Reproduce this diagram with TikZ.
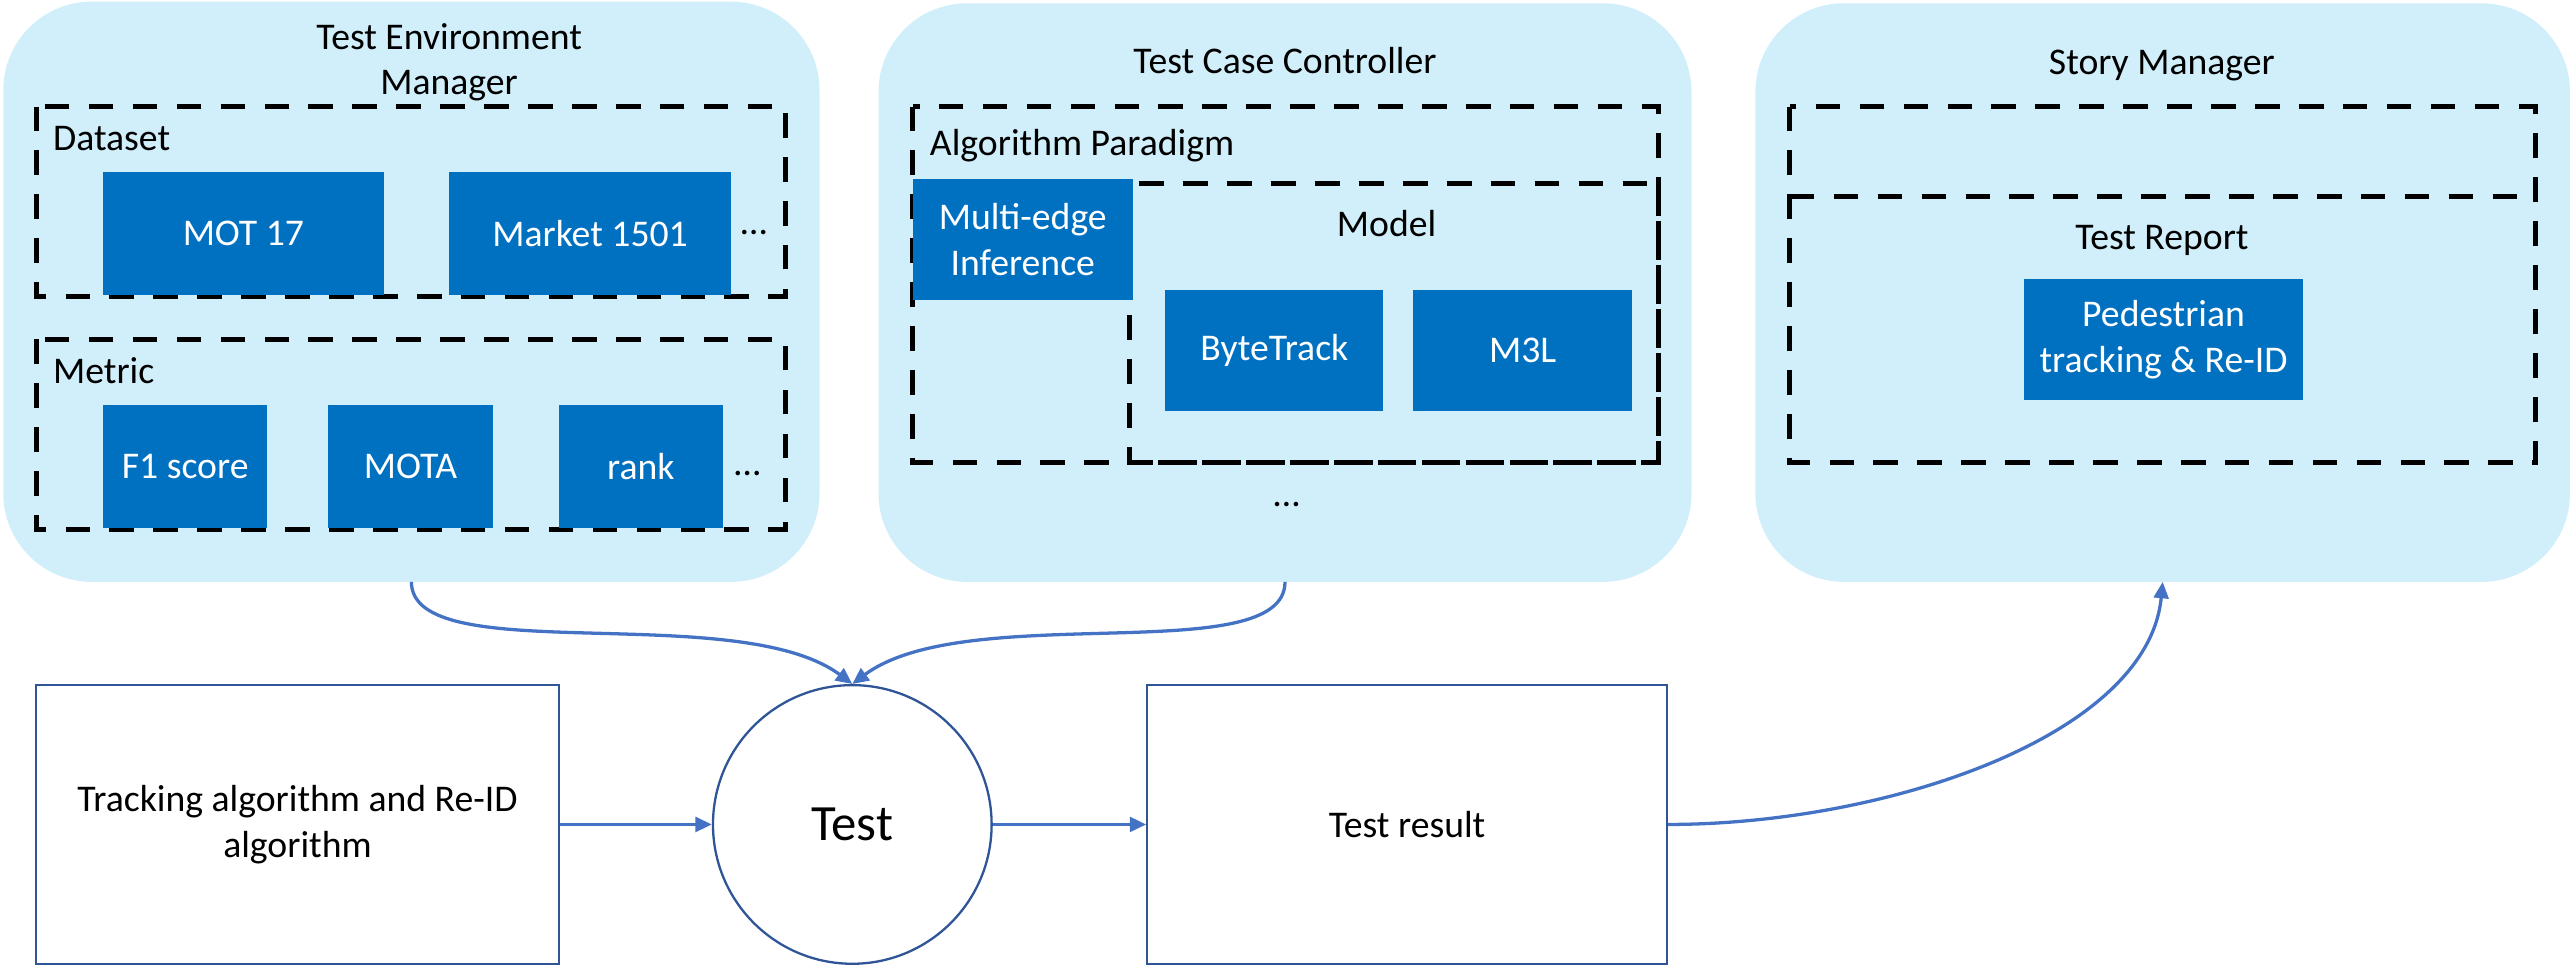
\documentclass[tikz,border=0pt]{standalone}
\usepackage{fontspec}
\setmainfont{Carlito}
\usetikzlibrary{arrows.meta}
\definecolor{panelblue}{RGB}{208,239,250}
\definecolor{boxblue}{RGB}{0,112,192}
\definecolor{linkblue}{RGB}{68,114,196}
\definecolor{edgeblue}{RGB}{47,85,151}
\begin{document}
\begin{tikzpicture}[x=0.5pt,y=-0.5pt,
		every node/.style={font=\fontsize{11.5}{14}\selectfont},
		panel/.style={fill=panelblue,rounded corners=27pt,inner sep=0pt,outer sep=0pt},
		dashbox/.style={draw=black,line width=1.5pt,dash pattern=on 7.5pt off 5.9pt},
		bluebox/.style={fill=boxblue,text=white,inner sep=0pt,align=center,minimum height=37.5pt},
		plainbox/.style={draw=edgeblue,line width=0.7pt,inner sep=0pt,align=center},
		tag/.style={inner sep=0pt,anchor=base west},
		head/.style={inner sep=0pt,anchor=base},
		link/.style={draw=linkblue,line width=1pt,-{Triangle[length=5pt,width=4.5pt]}}]
		\useasboundingbox (0,0) rectangle (1568,590.6);
		% panels
		\node[panel,minimum width=249pt,minimum height=177pt] (envpanel) at (251,178) {};
		\node[panel,minimum width=248pt,minimum height=176.5pt] (ctrlpanel) at (784,178.5) {};
		\node[panel,minimum width=248.5pt,minimum height=176.5pt] (storypanel) at (1319.5,178.5) {};
		\node[inner sep=0pt,align=center,font=\fontsize{11.5}{13.5}\selectfont] (envtitle) at (274,38) {Test Environment\\Manager};
		\node[head] (ctrltitle) at (784,45) {Test Case Controller};
		\node[head] (storytitle) at (1319,45.5) {Story Manager};
		% dashed groups
		\draw[dashbox] (22,65) rectangle (479,181);
		\draw[dashbox] (22,207) rectangle (479,323);
		\draw[dashbox] (557,65) rectangle (1012,282);
		\draw[dashbox] (689,112) rectangle (1012,282);
		\draw[dashbox] (1092,65) rectangle (1547,282);
		\draw[dashbox] (1092,120) -- (1547,120);
		\node[tag] (datasettag) at (32,92) {Dataset};
		\node[tag] (metrictag) at (32,234) {Metric};
		\node[tag] (paradigmtag) at (567,95) {Algorithm Paradigm};
		\node[head] (modeltag) at (846,144.5) {Model};
		\node[head] (reporttag) at (1319,152) {Test Report};
		% blue boxes
		\node[bluebox,minimum width=85.5pt] (mot) at (148.5,142.5) {MOT 17};
		\node[bluebox,minimum width=86pt] (market) at (360,142.5) {Market 1501};
		\node[head] (moredata) at (460,143) {\ldots};
		\node[bluebox,minimum width=50pt] (fone) at (113,284.5) {F1 score};
		\node[bluebox,minimum width=50.5pt] (mota) at (250.5,284.5) {MOTA};
		\node[bluebox,minimum width=50pt] (rank) at (391,284.5) {rank};
		\node[head] (moremetric) at (456,290) {\ldots};
		\node[bluebox,minimum width=67pt,minimum height=37pt] (multiedge) at (624,146) {Multi-edge\\Inference};
		\node[bluebox,minimum width=66.5pt,minimum height=37pt] (bytetrack) at (777.5,214) {ByteTrack};
		\node[bluebox,minimum width=67pt,minimum height=37pt] (mthreel) at (929,214) {M3L};
		\node[head] (moreparadigm) at (785,309) {\ldots};
		\node[bluebox,minimum width=85pt,minimum height=37pt] (pedestrian) at (1320,207) {Pedestrian\\tracking \& Re-ID};
		% bottom row
		\node[plainbox,minimum width=159.5pt,minimum height=85pt] (track) at (181.5,503) {Tracking algorithm and Re-ID\\algorithm};
		\node[plainbox,circle,minimum size=85pt,font=\fontsize{15.5}{18}\selectfont] (test) at (520,503) {Test};
		\node[plainbox,minimum width=158.5pt,minimum height=85pt] (result) at (858.5,503) {Test result};
		% connectors
		\draw[link] (envpanel.south) .. controls +(0,54) and +(-70,-52) .. (test.north);
		\draw[link] (ctrlpanel.south) .. controls +(0,54) and +(70,-52) .. (test.north);
		\draw[link] (track.east) -- (test.west);
		\draw[link] (test.east) -- (result.west);
		\draw[link] (result.east) .. controls +(133,0) and +(-9,94) .. (storypanel.south);
	\end{tikzpicture}
\end{document}
